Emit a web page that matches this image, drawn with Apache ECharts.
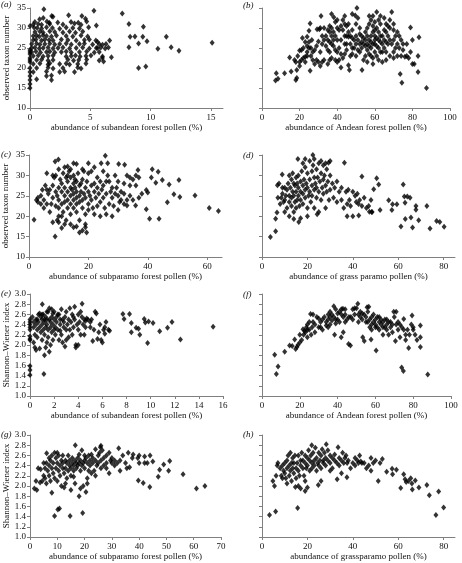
<!DOCTYPE html>
<html>
<head>
<meta charset="utf-8">
<script src="https://cdn.jsdelivr.net/npm/echarts@6/dist/echarts.min.js"></script>
<style>html,body{margin:0;padding:0;background:#fff;}#c{width:462px;height:563px;}</style>
</head>
<body>
<div id="c"></div>
<script>
// ---------------- DATA ----------------
const panelLetters = ['(a)','(b)','(c)','(d)','(e)','(f)','(g)','(h)'];
const xNames = [
  'abundance of subandean forest pollen (%)',
  'abundance of Andean forest pollen (%)',
  'abundance of subparamo forest pollen (%)',
  'abundance of grass paramo pollen (%)',
  'abundance of subandean forest pollen (%)',
  'abundance of Andean forest pollen (%)',
  'abundance of subparamo forest pollen (%)',
  'abundance of grassparamo pollen (%)'
];
const yNameTaxa = 'observed taxon number';
const yNameShannon = 'Shannon\u2013Wiener index';

const xTicksA = [0,5,10,15];
const xTicksB = [0,20,40,60,80,100];
const xTicksC = [0,20,40,60];
const xTicksD = [0,20,40,60,80];
const xTicksE = [0,2,4,6,8,10,12,14,16];
const xTicksF = [0,20,40,60,80,100];
const xTicksG = [0,10,20,30,40,50,60,70];
const xTicksH = [0,20,40,60,80];
const yTicksTaxa = [10,15,20,25,30,35];
const yTicksShannon = [1.0,1.2,1.4,1.6,1.8,2.0,2.2,2.4,2.6,2.8,3.0];

const aData = [
[0,30.5],[0,24.5],[0,23.5],[0,22.5],[0,21.5],[0,20],[0,19],[0,18],[0,17],[0,16],[0,15],[0,24],[0,22],
[1.15,34.7],[5.3,34.3],[7.65,33.6],[8.2,31],[9.4,30.3],[5.5,30.6],[8.3,27.8],[8.7,27.9],[9.35,27.8],[11.3,27.8],[9.7,26.7],[9.0,26.1],[8.2,25.2],[10.6,24.8],[11.7,25.2],[12.35,24.3],[15.1,26.3],[9.0,20],[9.6,20.4],[6.6,26.9],[6.3,26],[6.5,25.1],[6.75,22.7],[6.0,22.5],[6.1,21.6],[5.6,26.5],[5.5,25],
[1.8,33],[1.9,32.8],[3.2,33.2],[4.3,33],
[0.8,32.2],[1.1,32.5],[4.6,32.3],
[0.4,31.5],[1.4,31.6],[1.6,31.3],[2.3,31.4],[3.4,31.5],[4.0,31.3],[4.7,31.6],
[0.27,30.9],[0.68,31],[0.96,30.8],[1.64,31],[2.73,30.9],[3.69,31.1],[4.23,30.8],
[0.33,30.1],[0.6,30],[0.96,29.9],[1.37,30.2],[1.86,30],[2.46,29.8],[3.0,30.1],[3.55,30],[4.1,29.9],[4.86,30.2],
[0.41,29],[0.82,29.1],[1.09,28.9],[1.64,29.2],[2.05,29],[2.73,28.9],[3.28,29.1],[3.77,28.8],[4.37,29.1],
[0.27,28],[0.55,28.1],[0.77,27.9],[1.09,28.2],[1.37,28],[1.78,27.9],[2.19,28.1],[3.0,28],[3.55,27.9],[4.23,28.1],[4.78,27.9],
[0.27,27],[0.49,27.1],[0.96,26.9],[1.23,27.1],[1.58,27],[1.91,26.9],[2.6,27.1],[3.14,27],[3.83,26.9],[4.51,27],[4.92,27.1],[5.46,26.9],
[0.14,26],[0.55,26.1],[0.82,25.9],[1.23,26],[1.64,26.1],[2.05,25.9],[2.46,26],[3.0,26.1],[3.42,25.9],[4.1,26],[4.51,26.1],[5.19,25.9],[5.74,26],[6.01,25.8],
[0.14,25],[0.41,25.1],[0.77,24.9],[1.09,25],[1.5,25.1],[1.91,24.9],[2.32,25],[2.73,25.1],[3.28,24.9],[3.83,25],[4.37,25.1],[4.92,24.9],[5.6,25],[5.87,25.1],[6.23,24.9],
[0.14,24],[0.49,24.1],[0.87,23.9],[1.37,24],[1.64,24.1],[2.05,23.9],[2.6,24],[3.0,24.1],[3.42,23.9],[4.1,24],[4.7,24.1],[5.33,23.9],[5.74,24],
[0.27,23],[0.68,23.1],[1.09,22.9],[1.5,23],[1.91,23.1],[3.0,22.9],[3.42,23],[3.77,23.1],[4.15,22.9],[4.64,23],[5.05,23.1],[6.01,22.9],
[0.55,22],[0.96,22.1],[1.5,21.9],[1.91,22],[3.14,22.1],[3.61,21.9],[4.04,22],[4.7,22.1],[5.74,21.9],
[0.27,21],[0.82,21.1],[1.5,20.9],[1.64,21.2],[2.46,21],[3.0,21.1],[3.28,20.9],[3.96,21],[4.64,21.1],
[0.55,20],[1.5,20.1],[1.91,19.9],[2.73,20],[3.96,20.1],[4.23,19.9],
[0.27,19],[1.37,19.1],[2.46,19],[2.87,19.1],[3.69,19],
[1.37,18],[1.78,18.1],
[0.55,17.2],[1.78,17]
];

const bData = [
[7.2,16.9],[8.5,17.3],[7.6,18.7],[12,18.7],[15.5,19.1],[18.5,17.5],[18.5,19.5],[18,17],[14.7,22.6],[17.3,22],[18,21.5],[20,21.5],[21,22],[22,22.5],[23,22.8],[24,23],[20,24.4],[21,24.5],[22,25],[24,25.5],[25,25],[26,25],[23,26.5],[24,27.8],[25,29.3],[25.6,31.1],[26.5,27],[21.5,27.5],[29.3,29.7],[30.5,29.7],[31.4,33],[30,26.6],[29,25.5],[28,24.5],[29,22],[28,21],[30,21.5],[31,20.5],[32,21.5],[33,22],[25.6,19.3],
[35,24.5],[35,29.5],[36,30.5],[37,28],[38.2,32.7],[39,31.5],[40,30],[41,29.5],[37,26],[38,25.5],[39,24.5],[40,24],[41,25],[42,27],[43,29.5],[43,32],[44,31],[44,26],[45,28],[46,27.8],[47,28],[48,27.5],[49,27],[50,28],[42,20.1],[46,20.7],[46.5,19.5],[43,22.5],[44,23.5],[45,24.5],[47,23],[48,25],[49.6,33.1],[50.5,35],[51,32.5],[50,31],[52,30],[53,28],[53.2,19.5],[52,24],[54,26],[55,29],[56,30],[57,31],[58,32],[59,33],[60,31.5],[61,30],[62,32],[63,33],[65,32.5],[69,34],[70,29.5],[72,29],[68,30],[66,29],[64,28],[62,27],[60,26],[58,25],[56,24.5],[57,23.5],[59,22.5],[61,23],[63,24],[65,25],[67,26],[68,23],[66,22],[64,21.5],[62,22],[70,24],[72,26],[74,27],[73,25],[75,24.5],[74,23],[76,22.8],[77,23],[78,22.5],[79,30.1],[80,21],[81,21],[83.5,27.7],[83,23],[83,19],[73.5,18.5],[74.4,16.3],[87.5,15],
[34,28],[35,27],[36,26.5],[36,29],[37,30],[38,29],[38,27],[39,28],[40,27],[36,24],[37,22.5],[34,25.5],[33,27],[33,30],[32,26],[31,24],[35,21],[36,22],[39,22],[40,21.5],[45,30.5],[46,29],[47,26],[48,29.5],[49,25],[50,26],[51,27],[52,26],[53,25],[54,27.5],[55,27],[56,26],[57,27],[58,28],[59,29],[60,28],[61,27.5],[62,29],[63,28],[64,26],[65,27],[66,26.5],[67,28],[68,27],[69,26],[70,27],[71,28],[58,23],[60,24],[62,25],[64,24],[66,24],[55,23],[54,22],[56,21.5],[59,21],[57,33],[61,34],[63,31],[66,31],[60,29.5],[59,30.5],[56,28],[58,26.5],[60,27],[24,24],[26,23],[27,22],[23,21.5],[20,20.5],[19,23],[25,26.5],[27,24],[32,28],[31,30],[42,23.5],[41,22],[44,28],[45,26],[70,22.5],[72,23],[75,26],[77,26],[79,24],[80,27],[71,25],[73,28],[52,28.5],[48,23.5],[50,23],[51,24.5],[53,26.5],[55,25.5],[57,25.5],[59,26],[61,25.5],[63,26.5],[65,29.5],[67,30.5],[68,32],[70,31],[40,32],[42,30.5],[44,33],[37,33.5],[46,31],[48,33.5]
];

const cData = [
[1.7,19.1],[2.5,24],[3,23.5],[4,25],[4.5,26.5],[5,24],[5.5,27.5],[6,30.5],[8.8,33.4],[9.9,33.9],[8.8,15],[8,18.5],[9.5,19],[11,17.1],[10,22],[12,32],[13,32.2],[14,31.5],[16,32.8],[15,17.3],[19,17.3],[19.4,16],[18,16.5],[25.7,34.8],[24.3,33],[26.5,33],[30.2,32.8],[32.2,32.6],[34,29.5],[36.7,31.3],[37,29.5],[41.5,31.5],[43.5,30.9],[42.7,28.2],[44.9,28.9],[41.2,29.5],[47.2,27.8],[50.5,28.9],[39.5,26.4],[40,25.8],[48.8,25.4],[50.8,24.7],[46.6,23.4],[55.9,25.1],[39.5,21.7],[40.6,19.4],[43.8,19.4],[60.7,22],[63.8,21.3],[35.9,22.6],[33,22.6],
[5,22],[6,23],[6.5,25.5],[7,26.5],[7,21],[7.5,23],[8,24.5],[8,27.5],[8.5,29.5],[9,30],[9,26],[9,22.5],[9.5,25],[10,27],[10,24],[10,20],[10.5,29],[11,26],[11,23],[11,28],[11.5,30.5],[11.5,21],[12,25],[12,27],[12,23.5],[12.5,29.5],[12.5,19],[13,26],[13,24],[13,22],[13,28.5],[13.5,31],[14,27],[14,25],[14,23],[14,20.5],[14,29.5],[14.5,26.5],[15,28],[15,25.5],[15,24],[15,22],[15,30],[15.5,27],[15.5,29],[16,26],[16,24.5],[16,28.5],[16,23],[16,21],[16.5,30.5],[17,27.5],[17,25],[17,23.5],[17,19],[17.5,28],[17.5,26],[18,24],[18,29],[18,22],[18.5,25.5],[18.5,31],[19,27],[19,24.5],[19,20.5],[19.5,28.5],[20,26],[20,23],[20,30.5],[20,21.5],[20.5,25],[21,27.5],[21,24],[21,31],[21.5,22],[22,26],[22,28],[22,20.5],[22.5,24.5],[23,27],[23,29.5],[23,22.5],[23.5,25.5],[24,28.5],[24,23.5],[24,20],[24.5,26.5],[25,31],[25,24.5],[25,27.5],[25.5,22],[26,28.5],[26,25.5],[26.5,30],[27,28.5],[27,23],[27.5,26],[28,24.5],[28,27],[28.5,22.5],[29,25.5],[29,30],[29.5,27],[30,25],[30,28.5],[30.5,23.5],[31,26],[31,24],[32,28],[32,25.5],[33,30],[33,24],[34,27.5],[34,25],[35,29],[35,24],[36,30],[36,27.5],[37,24.5],[38,25.5],[22,32],[20,33],[18,31.5],[15,33],[13,30],[10,31.5],[8,30],[6,26.5],[4,23],[3,24.5],[26,20.5],[28,20],[30,21.5],[32,23],[12,18],[14,18],[16,17.5],[11,20],[10,18.5],[17,16],[19,18]
];

const dData = [
[3.7,14.9],[6,16.3],[6,19.4],[6.6,20.9],[6.8,27.6],[7,24.5],[8.9,30.2],[15.8,34],[22.4,35],[14,19.3],[16.2,18.6],[24.3,20.5],[28,22],[29.3,33.1],[36.3,33.1],[44,29.7],[50.5,29.3],[51.4,27.8],[49.2,26.6],[37.5,20],[40,20],[42.6,20.2],[47.3,21.1],[48.3,21],[52,21.5],[55.8,23.9],[57.2,21.5],[57.5,22.9],[59.4,22.9],[61.2,17.5],[62.2,27.8],[62.7,24.8],[64,24.8],[63,23.3],[63.1,19.3],[65.2,24.5],[65.6,19.7],[66.3,17.2],[67.8,22.5],[67.8,21.6],[69,19],[72.6,22.5],[74,17],[76.9,18.8],[78.3,18.6],[80.2,17.4],
[8,23],[8.5,24.5],[9,25.5],[9.5,23.5],[10,24],[10,27],[10.5,25],[11,26.5],[11,22],[11.5,28],[12,30],[12,25],[12,23.5],[12.5,27],[13,29],[13,24.5],[13,22.5],[13.5,26],[13.5,30.5],[14,28],[14,25],[14,21],[14.5,27.5],[14.5,23.5],[15,29.5],[15,26],[15,22],[15.5,24],[15.5,28],[16,27],[16,25],[16,30],[16.5,22.5],[17,28.5],[17,26],[17,24],[17.5,31],[18,27.5],[18,25.5],[18,23],[18.5,29],[19,32],[19,26.5],[19,24.5],[19.5,28],[20,30.5],[20,27],[20,22],[20.5,25],[21,33.5],[21,29],[21,26],[21.5,23.5],[22,31],[22,27.5],[22,25],[22.5,32.5],[23,29.5],[23,26.5],[23,22],[23.5,28],[24,31.5],[24,27],[24,24.5],[24.5,29.5],[25,33],[25,26],[25.5,28.5],[26,30.5],[26,24],[26.5,27],[27,32.5],[27,29],[27,25.5],[27.5,30],[28,27.5],[28.5,31.5],[28.5,26],[29,28.5],[29.5,24],[30,33.5],[30,30],[30,26.5],[31,28],[31.5,24.5],[32,27],[33,28.5],[33,23.5],[34,26],[35,27],[35,24],[36,22],[37,26],[37.5,23],[38,26.5],[38.5,24],[39,22.5],[40,26],[41,25],[41.5,23.5],[42,25.5],[42.5,23],[43,24],[44,22.5],[45,24.5],[46,22],[47,22.5],[48,24],[48.5,21],[12,20],[10,21],[9,27],[7.5,28],[17,19.5],[20,20],[25,21],[19,34],[23,34],[26,33.5],[28,33],[18,33]
];

const eData = [
[0,2.5],[0,2.4],[0,2.3],[0,2.17],[0,2.1],[0,1.59],[0,1.51],[0,1.41],[0,2.45],[0,2.35],[0,2.12],
[1.15,1.43],[1.02,2.8],[4.32,2.81],[7.7,2.61],[7.8,2.51],[8.25,2.61],[8.4,2.43],[8.4,2.25],[8.8,2.34],[9.0,2.32],[9.1,2.2],[9.47,2.51],[9.56,2.44],[9.75,2.04],[9.83,2.46],[10.2,2.43],[10.75,2.27],[11.4,2.34],[11.77,2.45],[12.47,2.11],[15.18,2.36],
[0.2,2.55],[0.3,2.45],[0.3,2.35],[0.4,2.2],[0.4,1.95],[0.5,2.5],[0.5,2.4],[0.5,1.9],[0.6,2.3],[0.6,2.15],[0.7,2.6],[0.7,2.45],[0.8,2.35],[0.8,1.93],[0.9,2.55],[0.9,2.25],[1.0,2.5],[1.0,2.4],[1.0,2.1],[1.1,2.6],[1.1,2.3],[1.2,2.45],[1.2,2.2],[1.2,1.8],[1.3,2.55],[1.3,2.35],[1.3,1.95],[1.4,2.5],[1.4,2.4],[1.4,2.05],[1.5,2.65],[1.5,2.3],[1.5,2.15],[1.6,2.72],[1.6,2.5],[1.6,1.87],[1.7,2.45],[1.7,2.35],[1.7,2.0],[1.8,2.7],[1.8,2.55],[1.8,2.25],[1.9,2.4],[1.9,2.1],[2.0,2.65],[2.0,2.5],[2.1,2.35],[2.1,2.2],[2.2,2.55],[2.2,2.45],[2.3,2.3],[2.4,2.6],[2.4,2.1],[2.5,2.4],[2.5,2.5],[2.6,2.7],[2.6,2.2],[2.7,2.05],[2.8,2.45],[2.8,2.35],[2.9,1.97],[2.9,2.55],[3.0,2.65],[3.0,2.3],[3.1,2.4],[3.2,2.5],[3.2,2.15],[3.3,2.72],[3.3,2.3],[3.4,2.45],[3.5,2.6],[3.5,2.2],[3.6,2.35],[3.7,2.75],[3.7,2.5],[3.8,2.0],[3.8,1.95],[3.9,2.4],[4.0,2.6],[4.0,2.3],[4.1,2.45],[4.2,2.65],[4.2,2.2],[4.3,2.55],[4.4,2.4],[4.5,2.5],[4.5,2.2],[4.6,2.47],[4.7,2.52],[4.8,2.5],[5.0,2.35],[5.0,2.45],[5.2,2.08],[5.3,2.3],[5.4,2.65],[5.5,2.62],[5.6,2.12],[5.7,2.25],[5.8,2.4],[5.9,2.1],[6.0,2.05],[6.1,2.3],[6.2,2.35],[6.3,2.45],[6.5,2.3],[6.6,2.28],[0.3,2.05],[0.6,2.5],[1.0,2.6],[1.9,2.62],[2.3,2.6],[2.7,2.5],[3.6,2.55],[4.0,2.0],[4.6,2.35],[5.1,2.5],[6.2,2.22],[1.4,2.65],[2.0,2.3],[3.0,2.1],[0.8,2.62],[1.2,2.5],[2.5,2.28]
];

const fData = [
[6.7,1.81],[7.6,1.43],[8.5,1.58],[12,1.87],[14.6,1.99],[16,1.98],[17.8,1.92],[17.3,2.11],[18.5,1.96],[20,2.05],[21,2.1],[22,2.2],[21.7,2.31],[22.5,2.28],[23,2.25],[23.5,2.35],[24,2.4],[24,2.15],[25,2.45],[25.7,2.61],[25,2.3],[26,2.2],[26.5,2.35],[27,2.45],[28,2.4],[28,2.25],[29,2.55],[30,2.52],[30,2.35],[31,2.45],[32,2.3],[32,2.5],[33,2.55],[34,2.45],[34,2.38],[35,2.5],[35,2.6],[36,2.55],[36,2.4],[37,2.6],[37,2.48],[38,2.76],[38,2.55],[38.4,2.2],[39,2.7],[39,2.5],[40,2.5],[40,2.62],[41,2.65],[41,2.45],[41.9,2.15],[42,2.7],[42.8,2.71],[43,2.55],[43,2.25],[44,2.6],[44,2.45],[45,2.5],[45.8,2.02],[46.8,1.99],[47,2.55],[48,2.7],[48,2.5],[49,2.72],[49,2.6],[50,2.72],[50.7,2.81],[51,2.6],[51,2.45],[52,2.55],[52,2.65],[53,2.5],[53.3,2.15],[54,2.6],[54.1,2.08],[55,2.45],[55,2.55],[55.6,2.74],[56,2.65],[56.5,2.75],[57,2.5],[57,2.35],[57.7,2.11],[58,2.3],[58,2.55],[59,2.45],[59,2.6],[60,2.4],[60,2.5],[60.4,1.89],[61,2.55],[61,2.35],[62,2.45],[62,2.3],[63,2.5],[63,2.4],[64,2.45],[64,2.2],[65,2.35],[65,2.5],[66,2.4],[66,2.3],[67,2.45],[67,2.2],[68,2.35],[68,2.45],[69,2.4],[69,2.25],[69.7,2.65],[71,2.65],[70.6,2.08],[71,2.4],[72,2.3],[72,2.45],[73,2.4],[73,2.15],[73.9,1.56],[74.8,1.49],[75,2.51],[75,2.3],[76,2.2],[76,2.1],[77,2.3],[77.6,1.94],[78,2.2],[79.4,2.58],[79,2.4],[80,2.35],[80,2.3],[81,2.2],[82,2.1],[83.8,2.38],[83.8,2.15],[83.8,1.96],[87.7,1.42],[20,2.2],[19,2.0],[24,2.3],[27,2.6],[31,2.35],[36,2.65],[44,2.7],[46,2.55],[53,2.62],[58,2.4],[62,2.55],[60,2.35],[56,2.45],[64,2.35],[66,2.5],[70,2.55],[74,2.35],[39,2.42],[42,2.6],[35,2.35]
];

const gData = [
[1.6,1.95],[2.5,1.92],[2.2,2.1],[3.7,2.07],[3.9,2.33],[6.1,2.64],[8,1.87],[9,1.41],[10.2,1.54],[10.8,1.56],[14.7,1.41],[19.3,1.47],[16.6,2.8],[25.8,2.76],[26,2.79],[32.5,2.74],[36,2.65],[37.8,2.62],[40,2.6],[42,2.58],[44,2.6],[40,2.45],[42,2.45],[43,2.45],[45,2.48],[39.7,2.11],[41.5,2.06],[43.9,1.98],[47,2.18],[47.5,2.32],[49,2.42],[51.2,2.49],[50.8,2.3],[56.1,2.23],[61,1.95],[64.1,2.0],
[4.5,2.1],[5,2.2],[5.5,2.35],[5.5,2.15],[6,2.45],[6,2.05],[6.5,2.3],[7,2.2],[7,2.4],[7.5,2.5],[7.5,2.1],[8,2.35],[8,2.6],[8.5,2.25],[8.5,2.45],[9,2.65],[9,2.15],[9.5,2.35],[9.5,2.55],[10,2.1],[10,2.45],[10.5,2.3],[10.5,2.6],[11,2.4],[11,2.2],[11.5,2.5],[11.5,2.0],[12,2.35],[12,2.45],[12.5,2.25],[12.5,1.97],[13,2.5],[13,2.35],[13.5,2.45],[13.5,2.15],[14,2.6],[14,2.3],[14.5,2.4],[14.5,2.5],[15,2.35],[15,2.2],[15,1.92],[15.5,2.45],[15.5,2.55],[16,2.4],[16,2.3],[16.5,2.5],[16.5,2.05],[17,2.45],[17,2.35],[17.5,2.55],[17.5,2.4],[18,2.45],[18,1.8],[18.5,2.5],[18.5,2.3],[18.5,1.95],[19,2.4],[19,2.7],[19.5,2.45],[19.5,2.0],[20,2.5],[20,2.35],[20.5,1.88],[20.5,2.55],[21,2.45],[21,2.15],[21.5,2.6],[21.5,2.3],[22,2.5],[22,2.4],[22.5,2.25],[22.5,2.62],[23,2.45],[23,2.55],[23.5,2.3],[24,2.72],[24,2.5],[24.5,2.4],[25,2.6],[25,2.45],[25.5,2.65],[26,2.5],[26,2.35],[26.5,2.7],[27,2.55],[27,2.4],[28,2.6],[28,2.45],[29,2.65],[29,2.25],[29.5,2.5],[30,2.55],[30,2.45],[31,2.5],[31,2.4],[32,2.45],[33,2.3],[33,2.5],[34,2.6],[35,2.45],[35.5,2.35],[36.5,2.37],[37.5,2.55],[39.5,2.55],[18,2.62],[20,2.6],[12,2.6],[10,2.65],[7,2.55],[5,2.45],[3,2.35],[28,2.35],[24,2.2],[21,2.05],[16,2.18],[13,2.05]
];

const hData = [
[3.3,1.43],[6,1.5],[4.8,2.1],[5.5,2.0],[6.2,2.2],[6.7,2.4],[15.7,1.57],[14.7,1.98],[17,1.95],[19,1.9],[20,1.97],[24.8,2.02],[21.9,2.8],[28.3,2.82],[33.5,2.76],[33.1,2.13],[37.4,2.17],[37,2.6],[41,2.4],[43,2.6],[44,2.45],[51.2,2.1],[52,2.45],[53,2.53],[54.9,2.28],[57.3,2.34],[57.5,2.23],[59.2,2.32],[61.1,1.96],[62.4,2.23],[63,2.13],[63.5,2.08],[64.5,2.1],[65.5,2.15],[66,2.05],[66.2,1.93],[67.5,2.11],[69.1,1.97],[72.6,2.02],[73.7,1.82],[76.6,1.43],[77.8,1.89],[80,1.58],
[7,2.45],[8,2.35],[8.5,2.2],[9,2.4],[9.5,2.3],[10,2.45],[10,2.25],[10.5,2.15],[11,2.5],[11,2.35],[11.5,2.6],[12,2.4],[12,2.2],[12.5,2.3],[12.5,2.65],[13,2.45],[13,2.1],[13.5,2.35],[13.5,2.55],[14,2.25],[14,2.45],[14.5,2.6],[15,2.35],[15,2.15],[15.5,2.45],[16,2.6],[16,2.3],[16.5,2.2],[17,2.5],[17,2.4],[17.5,2.65],[18,2.35],[18,2.5],[18.5,2.2],[19,2.45],[19,2.6],[19.5,2.35],[20,2.55],[20,2.4],[20.5,2.7],[21,2.5],[21,2.3],[21.5,2.6],[22,2.45],[22,2.35],[22.5,2.65],[23,2.5],[23,2.4],[23.5,2.75],[24,2.55],[24,2.3],[24.5,2.45],[25,2.65],[25,2.4],[25.5,2.5],[26,2.6],[26,2.35],[26.5,2.72],[27,2.5],[27,2.45],[27.5,2.65],[28,2.55],[28,2.4],[29,2.7],[29,2.5],[30,2.6],[30,2.45],[31,2.55],[31,2.35],[32,2.62],[32,2.5],[33,2.45],[34,2.55],[34,2.4],[35,2.5],[35.5,2.65],[36,2.45],[36.5,2.55],[37.5,2.45],[38,2.5],[39,2.35],[40,2.45],[41,2.55],[42,2.5],[42.5,2.45],[43.5,2.48],[45,2.45],[46,2.35],[47,2.4],[48,2.55],[48,2.3],[49,2.45],[50,2.5],[26,2.1],[19,2.1],[16,2.0],[11,2.05],[9,2.15],[30,2.3],[35,2.25]
];

// ---------------- LAYOUT / STYLE ----------------
const FONT = 'Liberation Serif';
const AX = '#808080';
const TXT = '#111';

const panels = [
  {data:aData, xTicks:xTicksA, xMax:16, yT:yTicksTaxa, left:30, top:8, w:193, h:100, yLab:true, yName:yNameTaxa},
  {data:bData, xTicks:xTicksB, xMax:100, yT:yTicksTaxa, left:262, top:8, w:188, h:100, yLab:false},
  {data:cData, xTicks:xTicksC, xMax:65, yT:yTicksTaxa, left:29, top:155, w:193, h:102, yLab:true, yName:yNameTaxa},
  {data:dData, xTicks:xTicksD, xMax:85, yT:yTicksTaxa, left:262, top:155, w:193, h:102, yLab:false},
  {data:eData, xTicks:xTicksE, xMax:16, yT:yTicksShannon, left:30, top:294, w:193, h:102, yLab:true, yName:yNameShannon},
  {data:fData, xTicks:xTicksF, xMax:100, yT:yTicksShannon, left:262, top:294, w:189, h:102, yLab:false},
  {data:gData, xTicks:xTicksG, xMax:70, yT:yTicksShannon, left:30, top:435, w:191, h:102, yLab:true, yName:yNameShannon},
  {data:hData, xTicks:xTicksH, xMax:85, yT:yTicksShannon, left:262, top:435, w:193, h:102, yLab:false}
];
const letterPos = [[1,0],[243,1],[1,150],[243,151],[1,289],[243,290],[1,430],[243,430]];

const grid=[], xAxis=[], yAxis=[], series=[], title=[];
panels.forEach((p,i)=>{
  grid.push({left:p.left, top:p.top, width:p.w, height:p.h, containLabel:false});
  const isShannon = p.yT === yTicksShannon;
  xAxis.push({
    type:'value', gridIndex:i, min:0, max:p.xMax,
    name:xNames[i], nameLocation:'middle', nameGap:15,
    nameTextStyle:{fontFamily:FONT, fontSize:9, color:TXT},
    axisLine:{show:true, onZero:false, lineStyle:{color:AX, width:1}},
    axisTick:{show:true, inside:false, length:3, lineStyle:{color:AX}, customValues:p.xTicks},
    axisLabel:{show:true, margin:5, fontFamily:FONT, fontSize:9, color:TXT, customValues:p.xTicks},
    splitLine:{show:false}
  });
  yAxis.push({
    type:'value', gridIndex:i, min:p.yT[0], max:p.yT[p.yT.length-1],
    interval: isShannon ? 0.2 : 5,
    name: p.yName || '', nameLocation:'middle', nameGap:19, nameRotate:90,
    nameTextStyle:{fontFamily:FONT, fontSize:9, color:TXT},
    axisLine:{show:true, onZero:false, lineStyle:{color:AX, width:1}},
    axisTick:{show:true, inside:false, length:3, lineStyle:{color:AX}},
    axisLabel:{show:p.yLab, margin:4, fontFamily:FONT, fontSize:9, color:TXT,
      formatter: v => isShannon ? Number(v).toFixed(1) : String(v)},
    splitLine:{show:false}
  });
  series.push({
    type:'scatter', xAxisIndex:i, yAxisIndex:i, data:p.data,
    symbol:'diamond', symbolSize:[5,6],
    itemStyle:{color:'#000'}, silent:true, animation:false
  });
  title.push({text:panelLetters[i], left:letterPos[i][0], top:letterPos[i][1], padding:0,
    textStyle:{fontFamily:FONT, fontSize:9, fontStyle:'italic', fontWeight:'normal', color:TXT}});
});

const chart = echarts.init(document.getElementById('c'), null, {renderer:'canvas'});
chart.setOption({backgroundColor:'#fff', animation:false, title, grid, xAxis, yAxis, series});
</script>
</body>
</html>
